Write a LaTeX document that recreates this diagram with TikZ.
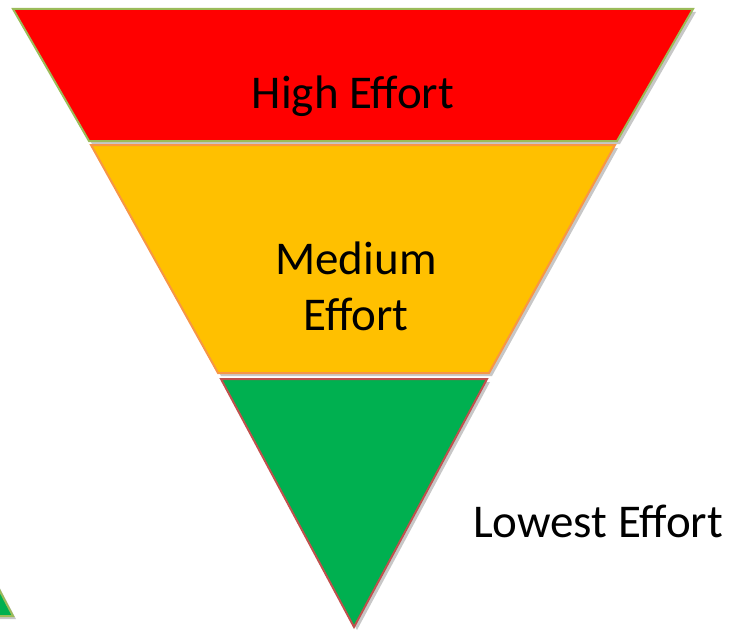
\documentclass[tikz,border=0pt]{standalone}
\usepackage{fontspec}
\setmainfont{Carlito}
\definecolor{hired}{HTML}{FF0000}
\definecolor{medorange}{HTML}{FFC000}
\definecolor{lowgreen}{HTML}{00B050}
\definecolor{olgreen}{HTML}{9BBB59}
\definecolor{olorange}{HTML}{F79646}
\definecolor{olred}{HTML}{C0504D}
\tikzset{
  band/.style={line width=2pt, line join=miter},
  shadowband/.style={fill=black!22, draw=none},
  lbl/.style={font=\fontsize{47}{56}\selectfont, text=black, align=center, inner sep=0pt},
}
\begin{document}
\begin{tikzpicture}[x=1pt,y=-1pt]
\clip (0,0) rectangle (730,634);
\fill[white] (0,0) rectangle (730,634);
% shadows
\begin{scope}[shift={(3,3)}]
\fill[shadowband] (13,9) -- (693,9) -- (617,141) -- (89,141) -- cycle;
\fill[shadowband] (91,145) -- (615,145) -- (489,373) -- (218,373) -- cycle;
\fill[shadowband] (221,379) -- (487,379) -- (354,627) -- cycle;
\fill[shadowband] (-40,616) -- (-9,574) -- (13,616) -- cycle;
\end{scope}
% bands
\filldraw[band, fill=hired, draw=olgreen] (13,9) -- (693,9) -- (617,141) -- (89,141) -- cycle;
\filldraw[band, fill=medorange, draw=olorange] (91,145) -- (615,145) -- (489,373) -- (218,373) -- cycle;
\filldraw[band, fill=lowgreen, draw=olred] (221,379) -- (487,379) -- (354,627) -- cycle;
\filldraw[band, fill=lowgreen, draw=olgreen] (-40,616) -- (-9,574) -- (13,616) -- cycle;
% labels
\node[lbl, anchor=base] (high) at (353,108) {High Effort};
\node[lbl, anchor=base] (med1) at (356,274) {Medium};
\node[lbl, anchor=base] (med2) at (356,330) {Effort};
\node[lbl, anchor=base] (low) at (598,537) {Lowest Effort};
\end{tikzpicture}
\end{document}
